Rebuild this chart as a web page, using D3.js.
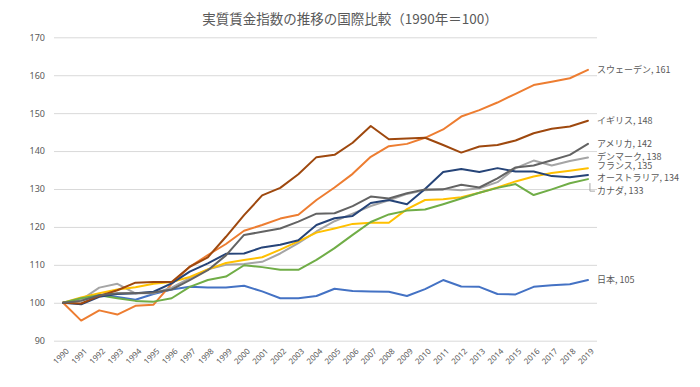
<!DOCTYPE html>
<html>
<head>
<meta charset="utf-8">
<script src="https://cdn.jsdelivr.net/npm/d3@7/dist/d3.min.js"></script>
<style>
  body { margin: 0; background: #fff; }
  svg { font-family: "Noto Sans CJK JP", "Noto Sans", sans-serif; }
</style>
</head>
<body>
<svg id="chart" width="700" height="387"></svg>
<script>
// data (1990 = 100)
var years = d3.range(1990, 2020);
var yTicks = [90, 100, 110, 120, 130, 140, 150, 160, 170];

var japan     = [100, 100.8, 102, 101.5, 100.8, 102.3, 103.5, 104.2, 104, 104, 104.5, 103, 101.2, 101.2, 101.8, 103.7, 103.1, 103, 102.9, 101.8, 103.6, 106, 104.3, 104.2, 102.3, 102.2, 104.2, 104.6, 104.9, 106];
var sweden    = [100, 95.3, 98, 96.9, 99.2, 99.5, 105, 109.5, 112.6, 115.5, 119, 120.5, 122.2, 123.2, 127.1, 130.4, 134, 138.5, 141.3, 141.9, 143.5, 145.7, 149.1, 150.8, 152.8, 155.1, 157.4, 158.3, 159.2, 161.4];
var denmark   = [100, 100.8, 104, 105, 102.5, 102.5, 104, 106.5, 108.8, 110, 110.2, 110.8, 113, 115.7, 118.8, 121.5, 123.5, 125.5, 127, 128.7, 129.7, 130, 129.7, 130.2, 131.8, 135.5, 137.5, 136.2, 137.4, 138.3];
var france    = [100, 101.4, 102.5, 103.5, 104.1, 105, 105.5, 106.8, 108.8, 110.5, 111.3, 112, 114, 116.2, 118.5, 119.6, 120.8, 121.1, 121.1, 124.7, 127.1, 127.3, 127.8, 129, 130.4, 132, 133.3, 134.2, 134.8, 135.5];
var canada    = [100, 101.2, 102, 101.2, 100.5, 100.3, 101.2, 104.2, 106, 106.9, 109.9, 109.4, 108.7, 108.7, 111.3, 114.4, 117.9, 121.3, 123.3, 124.3, 124.6, 126, 127.5, 129, 130.3, 131.3, 128.4, 129.9, 131.5, 132.6];
var australia = [100, 99.6, 101.6, 102.3, 102.5, 102.9, 105.1, 108.2, 110.4, 112.9, 113, 114.6, 115.3, 116.5, 120.5, 122.3, 122.9, 126.3, 127.1, 126, 130, 134.5, 135.3, 134.5, 135.5, 134.6, 134.6, 133.4, 133.1, 133.7];
var uk        = [100, 99.8, 101.8, 103.3, 105.3, 105.5, 105.5, 109.5, 112, 117.4, 123.1, 128.3, 130.3, 133.9, 138.4, 139, 142.2, 146.6, 143.1, 143.3, 143.5, 141.6, 139.6, 141.2, 141.6, 142.8, 144.7, 145.9, 146.5, 148];
var usa       = [100, 100.5, 102, 102.5, 102.5, 102.7, 103.5, 106, 108.6, 112.5, 117.9, 118.7, 119.6, 121.4, 123.5, 123.6, 125.5, 128, 127.5, 128.9, 129.9, 129.9, 131.1, 130.4, 132.8, 135.7, 136.2, 137.6, 139, 141.9];

var names  = ["日本", "スウェーデン", "デンマーク", "フランス", "カナダ", "オーストラリア", "イギリス", "アメリカ"];
var values = [japan, sweden, denmark, france, canada, australia, uk, usa];
var endLabels = [105, 161, 138, 135, 133, 134, 148, 142];
var colors = ["#4472C4", "#ED7D31", "#A5A5A5", "#FFC000", "#70AD47", "#264478", "#9E480E", "#636363"];

var svg = d3.select("#chart");
var textColor = "#595959";

var x = d3.scalePoint()
  .domain(years)
  .range([54, 597])
  .padding(0.5);

var y = d3.scaleLinear()
  .domain([90, 170])
  .range([340.7, 37.3]);

// title
svg.append("text")
  .attr("x", 350)
  .attr("y", 24)
  .attr("text-anchor", "middle")
  .attr("font-size", 13.5)
  .attr("fill", textColor)
  .text("実質賃金指数の推移の国際比較（1990年＝100）");

// gridlines + y labels
var yAxis = d3.axisLeft(y)
  .tickValues(yTicks)
  .tickSize(-(597 - 54))
  .tickPadding(9);

var gy = svg.append("g")
  .attr("transform", "translate(54,0)")
  .call(yAxis);
gy.select(".domain").remove();
gy.selectAll("line").attr("stroke", "#d9d9d9");
gy.selectAll("text")
  .attr("fill", textColor)
  .attr("font-size", 9)
  .style("font-family", "'Noto Sans', sans-serif");

// x labels
var xAxis = d3.axisBottom(x).tickSize(0);
var gx = svg.append("g")
  .attr("transform", "translate(0," + y(90) + ")")
  .call(xAxis);
gx.select(".domain").remove();
gx.selectAll("text")
  .attr("fill", textColor)
  .attr("font-size", 8)
  .style("font-family", "'Noto Sans', sans-serif")
  .attr("text-anchor", "end")
  .attr("x", 0)
  .attr("y", 0)
  .attr("dy", "0.35em")
  .attr("transform", "translate(4,9) rotate(-45)");

// lines
var line = d3.line()
  .x(function(d, i) { return x(years[i]); })
  .y(function(d) { return y(d); });

svg.append("g")
  .selectAll("path")
  .data(values)
  .enter()
  .append("path")
  .attr("d", line)
  .attr("fill", "none")
  .attr("stroke", function(d, i) { return colors[i]; })
  .attr("stroke-width", 2)
  .attr("stroke-linejoin", "round")
  .attr("stroke-linecap", "round");

// end labels (crowded ones nudged, canada pushed down with leader line)
var labelShift = { "デンマーク": -0.8, "フランス": -1.8, "オーストラリア": 2.8, "カナダ": 12 };
var lastYear = years[years.length - 1];
var labelX = x(lastYear) + 9;

var labels = svg.append("g");
names.forEach(function(n, i) {
  var v = values[i][values[i].length - 1];
  var ly = y(v) + (labelShift[n] || 0);
  labels.append("text")
    .attr("x", labelX)
    .attr("y", ly)
    .attr("dy", "0.35em")
    .attr("font-size", 9)
    .attr("fill", textColor)
    .text(n + ", " + endLabels[i]);
  if (n === "カナダ") {
    labels.append("path")
      .attr("d", "M" + (x(lastYear) + 2) + "," + (y(v) + 4) + "V" + ly + "H" + (labelX - 2))
      .attr("fill", "none")
      .attr("stroke", "#a6a6a6")
      .attr("stroke-width", 1);
  }
});
</script>
</body>
</html>
